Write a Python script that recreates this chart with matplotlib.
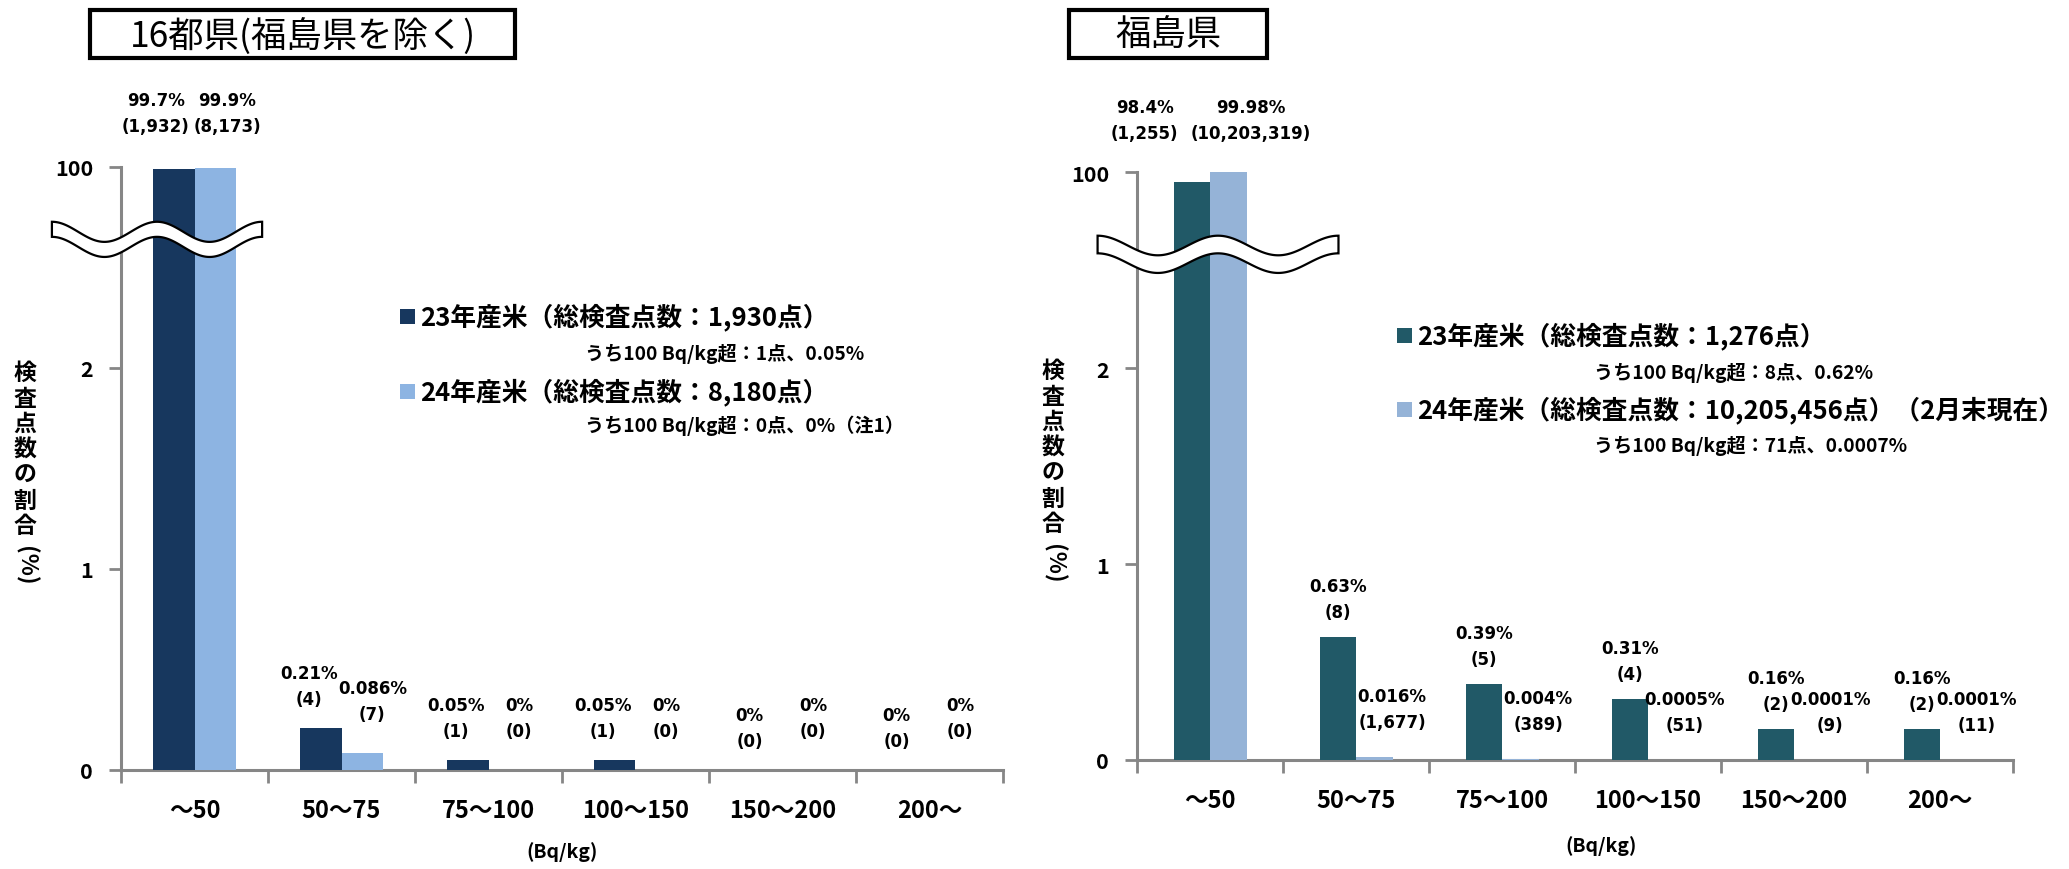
import numpy as np
import matplotlib
matplotlib.use("Agg")
import matplotlib.pyplot as plt
from matplotlib.patches import Rectangle, Polygon

plt.rcParams['font.family'] = ['Noto Sans CJK JP', 'DejaVu Sans']

W, H = 2069, 870   # output size in pixels (dpi 100)

# ---------------------------------------------------------------------------
# Data
# ---------------------------------------------------------------------------

categories = ["～50", "50～75", "75～100", "100～150", "150～200", "200～"]
ytick_labels = ["0", "1", "2", "100"]

# 16都県（福島県を除く）
others_23_pct = [99.7, 0.21, 0.05, 0.05, 0, 0]
others_23_n = [1932, 4, 1, 1, 0, 0]
others_24_pct = [99.9, 0.086, 0, 0, 0, 0]
others_24_n = [8173, 7, 0, 0, 0, 0]

# 福島県
fuku_23_pct = [98.4, 0.63, 0.39, 0.31, 0.16, 0.16]
fuku_23_n = [1255, 8, 5, 4, 2, 2]
fuku_24_pct = [99.98, 0.016, 0.004, 0.0005, 0.0001, 0.0001]
fuku_24_n = [10203319, 1677, 389, 51, 9, 11]

others_title = "16都県(福島県を除く)"
fuku_title = "福島県"
others_legend = ["23年産米（総検査点数：1,930点）", "24年産米（総検査点数：8,180点）"]
others_notes = ["うち100 Bq/kg超：1点、0.05%", "うち100 Bq/kg超：0点、0%（注1）"]
fuku_legend = ["23年産米（総検査点数：1,276点）", "24年産米（総検査点数：10,205,456点）（2月末現在）"]
fuku_notes = ["うち100 Bq/kg超：8点、0.62%", "うち100 Bq/kg超：71点、0.0007%"]
ylabel = "検査点数の割合"
xlabel = "(Bq/kg)"

# ---------------------------------------------------------------------------
# Helpers
# ---------------------------------------------------------------------------

AXIS_GREY = "#868686"
LABEL_FONT = dict(fontfamily="DejaVu Sans", fontsize=12, fontweight="bold")


def squash(v, k=0.033):
    # broken axis: values near 100 are drawn just under the "100" tick at y=3
    v = np.asarray(v, dtype=float)
    return np.where(v > 2.5, 3 - (100 - v) * k, v)


def fx(px):
    return px / W


def fy(py):
    return 1 - py / H


def wave(ax, x0, x1, yc, amp, thick):
    t = np.linspace(0, 1, 300)
    xs = x0 + (x1 - x0) * t
    ys = yc + amp * np.cos(4 * np.pi * t)
    verts = np.concatenate([np.column_stack([xs, ys + thick / 2]),
                            np.column_stack([xs[::-1], ys[::-1] - thick / 2])])
    ax.add_patch(Polygon(verts, closed=True, fc="white", ec="black", lw=1.6,
                         clip_on=False, zorder=6))


def panel(ax, v23, n23, v24, n24, c23, c24, width, dy, dx, dx0, top_dy):
    x = np.arange(len(categories))
    ax.bar(x - width / 2, squash(v23), width, color=c23, zorder=3)
    ax.bar(x + width / 2, squash(v24), width, color=c24, zorder=3)
    ax.set_xlim(-0.5, len(categories) - 0.5)
    ax.set_ylim(0, 3)

    for s in ["top", "right"]:
        ax.spines[s].set_visible(False)
    for s in ["left", "bottom"]:
        ax.spines[s].set_color(AXIS_GREY)
        ax.spines[s].set_linewidth(2.2)

    ax.set_yticks(range(4))
    ax.set_yticklabels(ytick_labels, fontsize=15.5, fontweight="bold")
    ax.tick_params(axis="y", length=9, width=2, color=AXIS_GREY, pad=11)
    ax.set_xticks(x)
    ax.set_xticklabels(categories, fontsize=17, fontweight="bold")
    ax.set_xticks(np.arange(-0.5, len(categories)), minor=True)
    ax.tick_params(axis="x", which="major", length=0, pad=20)
    ax.tick_params(axis="x", which="minor", length=9, width=2, color=AXIS_GREY)

    for series, (vals, ns, off) in enumerate([(v23, n23, -width / 2), (v24, n24, width / 2)]):
        ys = squash(vals)
        for i in range(len(categories)):
            base = 3.0 if i == 0 else ys[i]
            shift = dx0[series] if i == 0 else dx[series]
            lift = top_dy if i == 0 else dy[series]
            # two separate lines: percentage above, count below
            ax.annotate(f"({ns[i]:,})", xy=(i + off, base), xytext=(shift, lift),
                        textcoords="offset pixels", ha="center", va="bottom",
                        annotation_clip=False, zorder=7, **LABEL_FONT)
            ax.annotate(f"{vals[i]:g}%", xy=(i + off, base), xytext=(shift, lift + 26),
                        textcoords="offset pixels", ha="center", va="bottom",
                        annotation_clip=False, zorder=7, **LABEL_FONT)


def title_box(fig, x0, x1, text):
    fig.patches.append(Rectangle((fx(x0), fy(59)), fx(x1 - x0), 48 / H,
                                 transform=fig.transFigure, fc="white",
                                 ec="black", lw=3))
    fig.text(fx((x0 + x1) / 2), fy(36), text, ha="center", va="center",
             fontsize=25.5)


def legend(fig, x_sq, x_note, ys, colors, labels, notes):
    for k in range(2):
        fig.patches.append(Rectangle((fx(x_sq - 8), fy(ys[2 * k] + 8)), 15 / W, 15 / H,
                                     transform=fig.transFigure, fc=colors[k], ec="none"))
        fig.text(fx(x_sq + 12), fy(ys[2 * k]), labels[k], ha="left", va="center",
                 fontsize=18.5, fontweight="bold")
        fig.text(fx(x_note), fy(ys[2 * k + 1]), notes[k], ha="left", va="center",
                 fontsize=13.8, fontweight="bold")


def vertical_label(fig, x, y_top):
    fig.text(fx(x), fy(y_top), "\n".join(ylabel), ha="center", va="top",
             fontsize=16.5, fontweight="bold", linespacing=1.14)
    fig.text(fx(x), fy(y_top + 184), "(%)", ha="center", va="top",
             rotation=-90, fontsize=16.5, fontweight="bold")


# ---------------------------------------------------------------------------
# Figure
# ---------------------------------------------------------------------------

fig = plt.figure(figsize=(W / 100, H / 100), dpi=100)

ax1 = fig.add_axes([fx(121), fy(771), fx(882), (771 - 168) / H])
panel(ax1, others_23_pct, others_23_n, others_24_pct, others_24_n,
      "#17375E", "#8DB4E2", 0.283, dy=(20, 30), dx=(-12, 10), dx0=(-18, 12), top_dy=32)
wave(ax1, -0.97, 0.46, 2.64, 0.05, 0.075)
ax1.text(0.5, -0.135, xlabel, transform=ax1.transAxes, ha="center", va="center",
         fontsize=14, fontweight="bold")

ax2 = fig.add_axes([fx(1137), fy(761), fx(876), (761 - 173) / H])
panel(ax2, fuku_23_pct, fuku_23_n, fuku_24_pct, fuku_24_n,
      "#215967", "#95B3D7", 0.25, dy=(16, 26), dx=(0, 18), dx0=(-47, 23), top_dy=30)
wave(ax2, -0.77, 0.88, 2.58, 0.05, 0.09)
ax2.text(0.53, -0.145, xlabel, transform=ax2.transAxes, ha="center", va="center",
         fontsize=14, fontweight="bold")

title_box(fig, 90, 515, others_title)
title_box(fig, 1069, 1267, fuku_title)

legend(fig, 408, 585, [317, 354, 392, 426], ["#17375E", "#8DB4E2"], others_legend, others_notes)
legend(fig, 1405, 1594, [336, 373, 410, 446], ["#215967", "#95B3D7"], fuku_legend, fuku_notes)

vertical_label(fig, 25, 362)
vertical_label(fig, 1053, 360)

fig.savefig("out.png", dpi=100)
